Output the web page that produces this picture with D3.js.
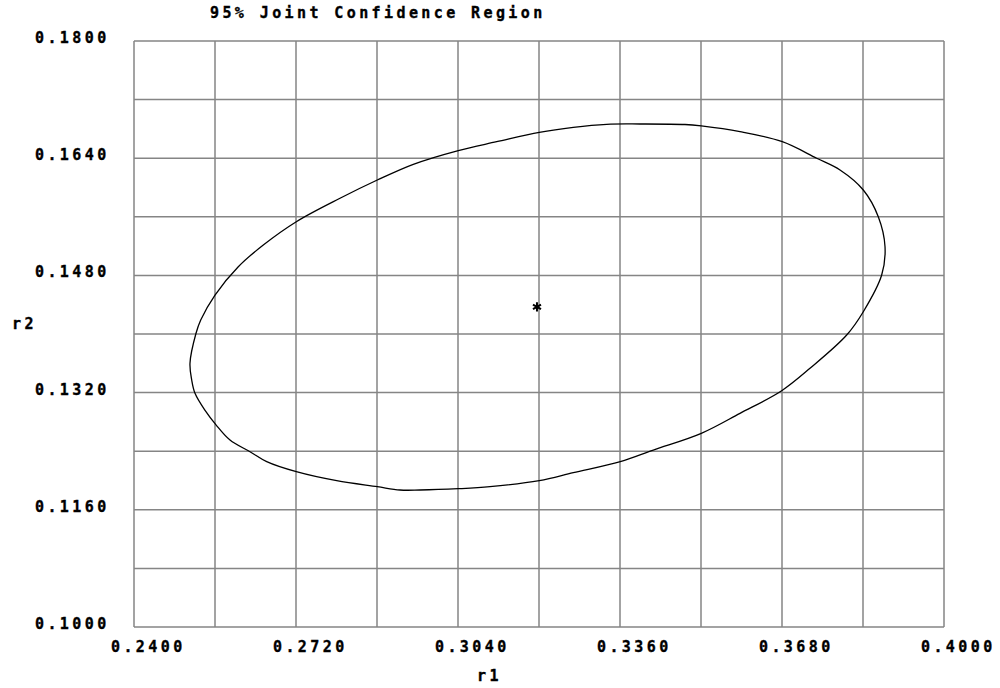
<!DOCTYPE html>
<html><head><meta charset="utf-8">
<script src="https://cdn.jsdelivr.net/npm/d3@7"></script>
<style>
html,body{margin:0;padding:0;background:#fff;}
text{font-family:"DejaVu Sans Mono","Liberation Mono",monospace;font-weight:bold;font-size:15px;fill:#000;stroke:#000;stroke-width:0.35px;letter-spacing:3.4px;}
</style></head>
<body>
<svg id="chart" width="1000" height="688"></svg>
<script>
const title = "95% Joint Confidence Region";
const xLabel = "r1";
const yLabel = "r2";
const xDomain = [0.24, 0.40];
const yDomain = [0.10, 0.18];
const xTickLabels = [0.2400, 0.2720, 0.3040, 0.3360, 0.3680, 0.4000];
const yTickLabels = [0.1000, 0.1160, 0.1320, 0.1480, 0.1640, 0.1800];
const xGrid = [0.240,0.256,0.272,0.288,0.304,0.320,0.336,0.352,0.368,0.384,0.400];
const yGrid = [0.100,0.108,0.116,0.124,0.132,0.140,0.148,0.156,0.164,0.172,0.180];
const estimate = [0.3196, 0.1437];
const regionR1 = [0.25106,0.25225,0.25318,0.25600,0.26060,0.26554,0.27206,0.28069,0.28806,0.29517,
  0.30406,0.31164,0.32006,0.32677,0.33337,0.33995,0.34884,0.35206,0.35970,0.36806,
  0.37485,0.37946,0.38406,0.38702,0.38835,0.38769,0.38406,0.38078,0.37353,0.36794,
  0.35970,0.35206,0.34258,0.33606,0.32677,0.32006,0.31032,0.30406,0.29649,0.29254,
  0.28806,0.28004,0.27206,0.26621,0.26291,0.25896,0.25620,0.25400,0.25205,0.25140];
const regionR2 = [0.13600,0.14010,0.14191,0.14532,0.14919,0.15215,0.15533,0.15853,0.16102,0.16317,
  0.16505,0.16625,0.16754,0.16822,0.16863,0.16867,0.16860,0.16840,0.16762,0.16625,
  0.16399,0.16239,0.15966,0.15601,0.15192,0.14805,0.14304,0.13986,0.13532,0.13226,
  0.12917,0.12644,0.12416,0.12257,0.12106,0.11997,0.11915,0.11888,0.11870,0.11870,
  0.11915,0.11997,0.12120,0.12257,0.12393,0.12553,0.12760,0.12960,0.13190,0.13372];

const svg = d3.select("#chart");
const L = 134, R = 944, T = 41, B = 627;
const x = d3.scaleLinear().domain(xDomain).range([L, R]);
const y = d3.scaleLinear().domain(yDomain).range([B, T]);
const gridColor = "#858585";

const g = svg.append("g");
g.selectAll("line.vx").data(xGrid).enter().append("line")
  .attr("x1", d => x(d)).attr("x2", d => x(d)).attr("y1", T).attr("y2", B)
  .attr("stroke", gridColor).attr("stroke-width", 1.5);
g.selectAll("line.hy").data(yGrid).enter().append("line")
  .attr("y1", d => y(d)).attr("y2", d => y(d)).attr("x1", L).attr("x2", R)
  .attr("stroke", gridColor).attr("stroke-width", 1.5);

svg.selectAll("text.yt").data(yTickLabels).enter().append("text")
  .attr("x", 35).attr("y", d => y(d) + 2)
  .text(d => d.toFixed(4));
svg.selectAll("text.xt").data(xTickLabels).enter().append("text")
  .attr("x", d => x(d) - 23).attr("y", 652)
  .text(d => d.toFixed(4));

svg.append("text").attr("x", 210).attr("y", 18).text(title);
svg.append("text").attr("x", 12).attr("y", 329).text(yLabel);
svg.append("text").attr("x", 477).attr("y", 681).text(xLabel);

const pts = regionR1.map((v, i) => [v, regionR2[i]]);
const line = d3.line().x(d => x(d[0])).y(d => y(d[1])).curve(d3.curveCatmullRomClosed.alpha(0.5));
svg.append("path").attr("d", line(pts)).attr("fill", "none")
  .attr("stroke", "#000").attr("stroke-width", 1.3);

const sym = d3.symbolAsterisk || d3.symbolCross;
svg.append("path")
  .attr("d", d3.symbol().type(sym).size(60)())
  .attr("transform", `translate(${x(estimate[0])},${y(estimate[1])})`)
  .attr("fill", "none").attr("stroke", "#000").attr("stroke-width", 2);
</script>
</body></html>
